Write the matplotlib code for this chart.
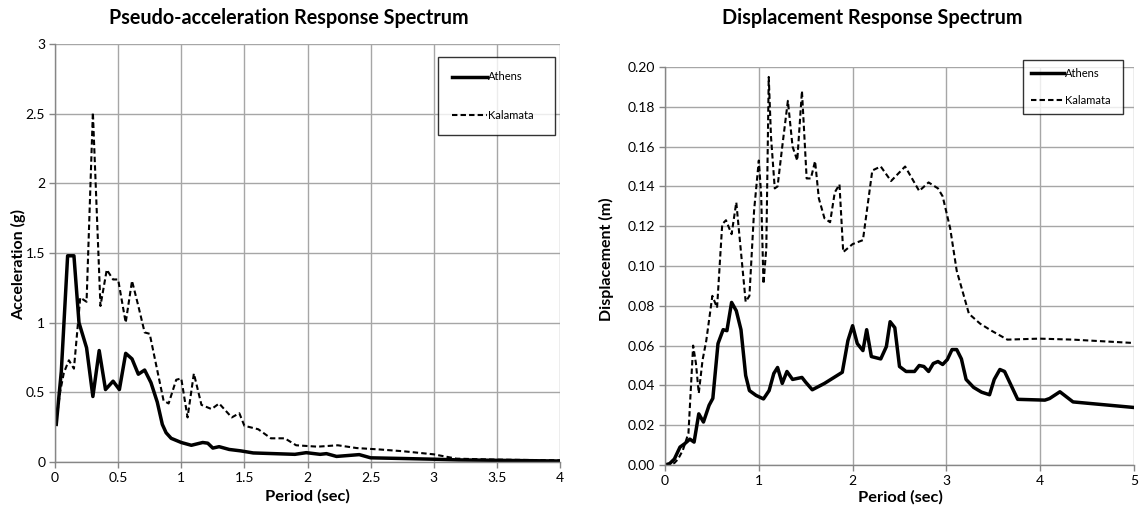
import matplotlib
matplotlib.use('Agg')
import matplotlib.pyplot as plt

plt.rcParams['font.family'] = ['Lato', 'DejaVu Sans']

# pseudo-acceleration spectrum (g)
acc_period_athens = [0.01, 0.05, 0.10, 0.15, 0.19, 0.25, 0.30, 0.35, 0.40, 0.46, 0.51, 0.56,
                     0.61, 0.66, 0.71, 0.76, 0.81, 0.85, 0.88, 0.92, 0.96, 1.0, 1.08, 1.17,
                     1.21, 1.25, 1.30, 1.38, 1.47, 1.57, 1.90, 1.99, 2.10, 2.15, 2.23, 2.41,
                     2.5, 2.76, 3.0, 3.2, 3.5, 4.0]
acc_athens = [0.27, 0.65, 1.48, 1.48, 1.00, 0.82, 0.47, 0.80, 0.52, 0.58, 0.52, 0.78,
              0.74, 0.63, 0.66, 0.57, 0.43, 0.27, 0.21, 0.17, 0.155, 0.14, 0.12, 0.14,
              0.135, 0.10, 0.11, 0.09, 0.08, 0.065, 0.055, 0.067, 0.055, 0.06, 0.04, 0.053,
              0.03, 0.025, 0.02, 0.015, 0.012, 0.007]

acc_period_kalamata = [0.02, 0.04, 0.07, 0.11, 0.15, 0.20, 0.25, 0.30, 0.36, 0.41, 0.46, 0.50,
                       0.56, 0.61, 0.66, 0.71, 0.75, 0.86, 0.90, 0.96, 1.0, 1.05, 1.10, 1.16,
                       1.24, 1.30, 1.40, 1.46, 1.50, 1.61, 1.71, 1.82, 1.91, 2.08, 2.24, 2.39,
                       2.57, 2.76, 3.0, 3.18, 3.5, 4.0]
acc_kalamata = [0.36, 0.50, 0.64, 0.73, 0.67, 1.18, 1.15, 2.51, 1.12, 1.38, 1.31, 1.31,
                1.00, 1.30, 1.12, 0.93, 0.92, 0.44, 0.42, 0.59, 0.60, 0.32, 0.635, 0.41,
                0.38, 0.42, 0.32, 0.35, 0.26, 0.235, 0.17, 0.17, 0.12, 0.11, 0.12, 0.10,
                0.09, 0.077, 0.055, 0.024, 0.017, 0.012]

# displacement spectrum (m)
disp_period_athens = [0, 0.05, 0.10, 0.16, 0.21, 0.265, 0.31, 0.36, 0.41, 0.47, 0.51, 0.565,
                      0.62, 0.66, 0.71, 0.76, 0.81, 0.86, 0.90, 0.97, 1.05, 1.11, 1.16, 1.20,
                      1.25, 1.30, 1.36, 1.46, 1.50, 1.57, 1.70, 1.89, 1.95, 2.0, 2.05, 2.11,
                      2.15, 2.20, 2.30, 2.36, 2.40, 2.45, 2.50, 2.57, 2.66, 2.71, 2.76, 2.81,
                      2.86, 2.91, 2.96, 3.01, 3.06, 3.11, 3.16, 3.21, 3.29, 3.375, 3.46, 3.51,
                      3.57, 3.62, 3.76, 4.05, 4.10, 4.21, 4.35, 5.0]
disp_athens = [0, 0.0007, 0.003, 0.009, 0.0107, 0.013, 0.0115, 0.0257, 0.0216, 0.030, 0.0335, 0.061,
               0.068, 0.0675, 0.0817, 0.0775, 0.068, 0.045, 0.0374, 0.035, 0.0332, 0.0374, 0.046, 0.049,
               0.041, 0.047, 0.043, 0.044, 0.0416, 0.0378, 0.041, 0.0466, 0.0625, 0.070, 0.061, 0.0575,
               0.068, 0.0545, 0.0533, 0.0595, 0.072, 0.069, 0.0495, 0.047, 0.047, 0.050, 0.0495, 0.047,
               0.051, 0.052, 0.0505, 0.053, 0.058, 0.058, 0.0533, 0.043, 0.039, 0.0366, 0.0353, 0.043,
               0.048, 0.047, 0.033, 0.0326, 0.0334, 0.0368, 0.0317, 0.0289]

disp_period_kalamata = [0, 0.05, 0.10, 0.14, 0.19, 0.25, 0.30, 0.33, 0.36, 0.40, 0.44, 0.505,
                        0.555, 0.61, 0.65, 0.71, 0.76, 0.86, 0.90, 0.95, 1.0, 1.025, 1.05, 1.08,
                        1.106, 1.13, 1.17, 1.20, 1.25, 1.31, 1.36, 1.41, 1.46, 1.51, 1.555, 1.60,
                        1.64, 1.70, 1.76, 1.81, 1.86, 1.90, 2.0, 2.11, 2.21, 2.30, 2.41, 2.56,
                        2.71, 2.81, 2.91, 2.96, 3.04, 3.11, 3.18, 3.24, 3.36, 3.48, 3.65, 3.99,
                        4.35, 5.0]
disp_kalamata = [0, 0, 0.001, 0.003, 0.0074, 0.016, 0.060, 0.051, 0.036, 0.0526, 0.0625, 0.085,
                 0.079, 0.121, 0.123, 0.116, 0.132, 0.082, 0.085, 0.128, 0.153, 0.136, 0.091, 0.109,
                 0.195, 0.165, 0.139, 0.140, 0.160, 0.183, 0.160, 0.153, 0.188, 0.144, 0.144, 0.1527,
                 0.134, 0.124, 0.122, 0.137, 0.141, 0.107, 0.111, 0.113, 0.148, 0.150, 0.1427, 0.150,
                 0.1377, 0.142, 0.139, 0.135, 0.119, 0.0976, 0.086, 0.076, 0.071, 0.0675, 0.063, 0.0635,
                 0.063, 0.0613]

acc_xticks = [0, 0.5, 1, 1.5, 2, 2.5, 3, 3.5, 4]
acc_yticks = [0, 0.5, 1, 1.5, 2, 2.5, 3]
disp_xticks = [0, 1, 2, 3, 4, 5]
disp_yticks = [0, 0.02, 0.04, 0.06, 0.08, 0.10, 0.12, 0.14, 0.16, 0.18, 0.20]

W, H = 1140, 515
GRID = '#a6a6a6'
AXIS = '#868686'

fig = plt.figure(figsize=(W / 100, H / 100), dpi=100)


def px_axes(l, t, r, b):
    return fig.add_axes([l / W, 1 - b / H, (r - l) / W, (b - t) / H])


def style(ax):
    ax.grid(True, color=GRID, lw=1.0)
    ax.set_axisbelow(True)
    for s in ('top', 'right'):
        ax.spines[s].set_visible(False)
    for s in ('left', 'bottom'):
        ax.spines[s].set_color(AXIS)
        ax.spines[s].set_linewidth(1.0)
    ax.tick_params(direction='out', length=4, width=1, color=AXIS,
                   labelsize=10, labelcolor='#000000', pad=3)


def legend(ax, x0, top, width, spacing, pad, hlen):
    # expand mode stretches the frame to the given width
    leg = ax.legend(loc='upper left', bbox_to_anchor=(x0, top - 0.3, width, 0.3),
                    mode='expand', borderaxespad=0,
                    fontsize=8, frameon=True, fancybox=False, edgecolor='black',
                    labelspacing=spacing, borderpad=pad, handlelength=hlen,
                    handletextpad=0.1)
    leg.get_frame().set_linewidth(1.0)
    return leg


# left: pseudo-acceleration
ax1 = px_axes(55, 44, 560, 462)
ax1.plot(acc_period_athens, acc_athens, color='black', lw=2.5, label='Athens')
ax1.plot(acc_period_kalamata, acc_kalamata, color='black', lw=1.5,
         dashes=(2.6, 1.5), label='Kalamata')
ax1.set_xlim(0, 4)
ax1.set_ylim(0, 3)
ax1.set_xticks(acc_xticks)
ax1.set_xticklabels(['0', '0.5', '1', '1.5', '2', '2.5', '3', '3.5', '4'])
ax1.set_yticks(acc_yticks)
ax1.set_yticklabels(['0', '0.5', '1', '1.5', '2', '2.5', '3'])
style(ax1)
legend(ax1, 0.758, 0.969, 0.232, 2.45, 1.3, 3.1)

# right: displacement
ax2 = px_axes(665, 67, 1134, 465)
ax2.plot(disp_period_athens, disp_athens, color='black', lw=2.5, label='Athens')
ax2.plot(disp_period_kalamata, disp_kalamata, color='black', lw=1.5,
         dashes=(2.6, 1.5), label='Kalamata')
ax2.set_xlim(0, 5)
ax2.set_ylim(0, 0.2)
ax2.set_xticks(disp_xticks)
ax2.set_yticks(disp_yticks)
ax2.set_yticklabels(['%.2f' % v for v in disp_yticks])
style(ax2)
legend(ax2, 0.763, 1.0176, 0.213, 1.45, 0.7, 3.0)

# titles and axis labels
fig.text(289 / W, 1 - 18 / H, 'Pseudo-acceleration Response Spectrum',
         ha='center', va='center', fontsize=14.2, fontweight='bold')
fig.text(872 / W, 1 - 18 / H, 'Displacement Response Spectrum',
         ha='center', va='center', fontsize=14.2, fontweight='bold')
fig.text(307 / W, 1 - 496 / H, 'Period (sec)', ha='center', va='center',
         fontsize=11.8, fontweight='bold')
fig.text(900 / W, 1 - 497 / H, 'Period (sec)', ha='center', va='center',
         fontsize=11.8, fontweight='bold')
fig.text(19 / W, 1 - 265 / H, 'Acceleration (g)', ha='center', va='center',
         rotation=90, fontsize=11.5, fontweight='bold')
fig.text(606 / W, 1 - 259 / H, 'Displacement (m)', ha='center', va='center',
         rotation=90, fontsize=11.5, fontweight='bold')

fig.savefig('out.png', dpi=100)
